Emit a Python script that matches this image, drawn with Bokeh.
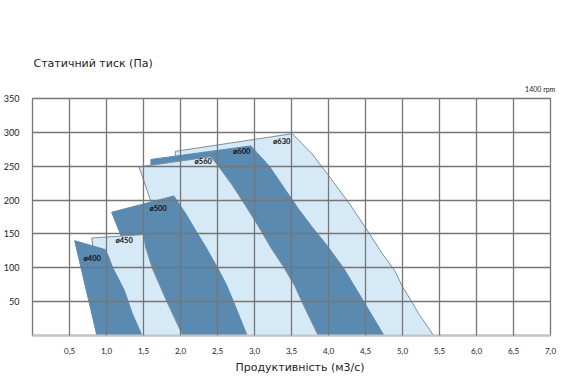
from bokeh.plotting import figure
from bokeh.models import FixedTicker, ColumnDataSource, Title, LinearAxis
from bokeh.core.properties import value
from bokeh.embed import file_html
from bokeh.resources import INLINE

# ---- data ----
x_ticks = [0.5, 1.0, 1.5, 2.0, 2.5, 3.0, 3.5, 4.0, 4.5, 5.0, 5.5, 6.0, 6.5, 7.0]
x_tick_labels = ["0,5", "1,0", "1,5", "2,0", "2,5", "3,0", "3,5", "4,0", "4,5",
                 "5,0", "5,5", "6,0", "6,5", "7,0"]
y_ticks = [50, 100, 150, 200, 250, 300, 350]
y_tick_labels = ["50", "100", "150", "200", "250", "300", "350"]
speed_note = "1400 rpm"

fan630_x = [1.93, 3.51, 3.78, 4.03, 4.30, 4.52, 4.72, 4.90, 5.00, 5.13, 5.22, 5.42, 4.00, 2.50, 1.93]
fan630_y = [272, 298, 268, 232, 192, 156, 122, 95, 72, 49, 32, 0, 0, 200, 265]

fan600_x = [1.60, 2.95, 3.10, 3.20, 3.40, 3.60, 3.78, 3.98, 4.20, 4.46, 4.75, 3.30, 2.00, 1.60]
fan600_y = [260, 280, 262, 250, 218, 186, 160, 133, 100, 53, 0, 0, 200, 250]

fan560_x = [1.44, 2.41, 2.52, 2.70, 2.90, 3.06, 3.22, 3.40, 3.55, 3.64, 3.86, 2.40, 1.59]
fan560_y = [249, 264, 249, 222, 188, 160, 130, 100, 72, 50, 0, 0, 201]

fan500_x = [1.07, 1.91, 2.07, 2.20, 2.34, 2.50, 2.62, 2.72, 2.90, 1.50, 1.19]
fan500_y = [182, 206, 180, 156, 131, 100, 75, 49, 0, 0, 149]

fan450_x = [0.80, 1.50, 1.53, 1.62, 1.82, 2.03, 1.00]
fan450_y = [144, 149, 130, 99, 49, 0, 0]

fan400_x = [0.57, 0.98, 1.03, 1.08, 1.24, 1.35, 1.48, 0.87]
fan400_y = [140, 127, 116, 101, 67, 32, 0, 0]

fan_names = ["ø630", "ø600", "ø560", "ø500", "ø450", "ø400"]
fan_label_x = [3.25, 2.71, 2.19, 1.58, 1.12, 0.69]
fan_label_y = [286, 271, 257, 187, 140, 113]

DARK = "#5b8ab1"
LIGHT = "#d6e9f7"
EDGE = "#7e8e9b"
GRID = "#767676"

p = figure(frame_width=518, frame_height=237, output_backend="svg", toolbar_location=None,
           x_range=(0, 7), y_range=(0, 350), title_location=None,
           min_border_left=26, min_border_right=10, min_border_top=98, min_border_bottom=34)
p.background_fill_color = "white"
p.border_fill_color = "white"
p.outline_line_color = GRID
p.outline_line_width = 1.3

src = ColumnDataSource(dict(
    xs=[fan630_x, fan600_x, fan560_x, fan500_x, fan450_x, fan400_x],
    ys=[fan630_y, fan600_y, fan560_y, fan500_y, fan450_y, fan400_y],
    fill=[LIGHT, DARK, LIGHT, DARK, LIGHT, DARK],
    line=[EDGE, DARK, EDGE, DARK, EDGE, DARK],
))
p.patches("xs", "ys", source=src, fill_color="fill", line_color="line", line_width=1)

lab = ColumnDataSource(dict(x=fan_label_x, y=fan_label_y, t=fan_names))
p.text("x", "y", text="t", source=lab, text_font=value("Lato"), text_font_size="7.5px",
       text_font_style="bold", text_color="#111111", text_align="left", text_baseline="middle")

# axes
p.xaxis.ticker = FixedTicker(ticks=x_ticks)
p.xaxis.major_label_overrides = {t: s for t, s in zip(x_ticks, x_tick_labels)}
p.yaxis.ticker = FixedTicker(ticks=y_ticks)
p.yaxis.major_label_overrides = {t: s for t, s in zip(y_ticks, y_tick_labels)}
for ax in (p.xaxis, p.yaxis):
    ax.major_tick_line_color = None
    ax.minor_tick_line_color = None
    ax.major_label_text_font = "Lato"
    ax.major_label_text_color = "#222222"
p.xaxis.major_label_text_font_size = "8px"
p.yaxis.major_label_text_font_size = "9px"
p.xaxis.major_label_standoff = 6
p.yaxis.major_label_standoff = 7
p.xaxis.axis_line_color = "#c4c4c4"
p.xaxis.axis_line_width = 2
p.yaxis.axis_line_color = None

p.xgrid.ticker = FixedTicker(ticks=x_ticks[:-1])
p.ygrid.ticker = FixedTicker(ticks=y_ticks[:-1])
for g in (p.xgrid, p.ygrid):
    g.grid_line_color = GRID
    g.grid_line_width = 1.3
    g.level = "guide"

# "1400 rpm" note as a one-tick axis above the frame, at its right end
note_axis = LinearAxis(ticker=FixedTicker(ticks=[x_ticks[-1]]),
                       major_label_overrides={x_ticks[-1]: speed_note},
                       axis_line_color=None, major_tick_line_color=None,
                       minor_tick_line_color=None, major_label_standoff=0,
                       major_label_text_font="Lato", major_label_text_font_size="7px",
                       major_label_text_color="#222222")
p.add_layout(note_axis, "above")

main_title = Title(text="Статичний тиск (Па)", align="left", offset=1, standoff=24,
                   text_font="DejaVu Sans", text_font_size="11px", text_font_style="normal",
                   text_color="#222222")
p.add_layout(main_title, "above")

x_title = Title(text="Продуктивність (м3/с)", align="left", offset=203, standoff=5,
                text_font="DejaVu Sans", text_font_size="11px", text_font_style="normal",
                text_color="#222222")
p.add_layout(x_title, "below")

open("out.html", "w").write(file_html(p, INLINE))
